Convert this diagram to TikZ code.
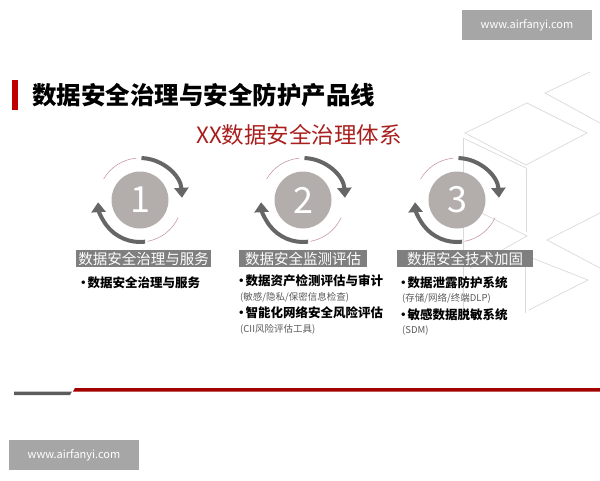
\documentclass[tikz,border=0pt]{standalone}
\usepackage{fontspec}
\setmainfont{Noto Sans CJK SC}
\usetikzlibrary{arrows.meta}

\definecolor{titlered}{HTML}{C00000}
\definecolor{subred}{HTML}{A8201E}
\definecolor{discgray}{HTML}{B3AEAC}
\definecolor{ringgray}{HTML}{666666}
\definecolor{ringpink}{HTML}{C89AA4}
\definecolor{boxgray}{HTML}{7F7F7F}
\definecolor{markgray}{HTML}{A6A6A6}
\definecolor{cubegray}{HTML}{DADADA}
\definecolor{notegray}{HTML}{595959}

\tikzset{
    cube/.style={cubegray, line width=0.7pt},
    disc/.style={circle, fill=discgray, minimum size=57pt, inner sep=0pt, text=white, font=\fontsize{36}{36}\selectfont},
    ring/.style={ringgray, line width=4pt, -{Triangle[width=14pt,length=10pt]}},
    thinring/.style={ringpink, line width=0.6pt},
    headbox/.style={fill=boxgray, text=white, minimum height=17pt, inner sep=0pt, font=\fontsize{14.5}{14.5}\selectfont},
    item/.style={anchor=west, inner sep=0pt, font=\bfseries\fontsize{12.5}{12.5}\selectfont},
    note/.style={anchor=west, inner sep=0pt, text=notegray, font=\fontsize{9.5}{9.5}\selectfont},
    watermark/.style={fill=markgray, text=white, minimum width=130pt, minimum height=30pt, inner sep=0pt, font=\fontsize{11}{11}\selectfont}
}

\begin{document}
\begin{tikzpicture}[x=1pt, y=-1pt]
    \useasboundingbox (0, 0) rectangle (600, 480);

    % Background cubes
    \draw[cube] (590, 72) -- (545, 93) -- (600, 123);
    \draw[cube] (465, 133) -- (527, 103) -- (587, 133) -- (526, 165) -- cycle;
    \draw[cube] (463, 138) -- (526, 168);
    \draw[cube] (463, 138) -- (463, 312);
    \draw[cube] (526, 168) -- (526, 232);
    \draw[cube] (470, 207) -- (527, 236) -- (470, 268);
    \draw[cube] (600, 213) -- (547, 240) -- (600, 268);
    \draw[cube] (525, 255) -- (525, 313);
    \draw[cube] (532, 258) -- (588, 280) -- (529, 310);

    % Watermarks
    \node[watermark] (mark top) at (527, 25) {www.airfanyi.com};
    \node[watermark] (mark bottom) at (74, 455) {www.airfanyi.com};

    % Title
    \fill[titlered] (12, 80) rectangle (18, 110);
    \node[anchor=west, inner sep=0pt, font=\bfseries\fontsize{24.5}{24.5}\selectfont] (title) at (32, 95) {数据安全治理与安全防护产品线};
    \node[text=subred, inner sep=0pt, font=\fontsize{22.5}{22.5}\selectfont] (subtitle) at (299, 135) {XX数据安全治理体系};

    % Discs
    \node[disc] (disc1) at (140, 200) {1};
    \node[disc] (disc2) at (303, 200) {2};
    \node[disc] (disc3) at (457, 200) {3};

    % Rings
    \draw[thinring] (140, 200) ++(-150:42) arc (-150:-95:42);
    \draw[thinring] (140, 200) ++(25:42) arc (25:80:42);
    \draw[ring] (140, 200) ++(-88:42) arc (-88:-3:42);
    \draw[ring] (140, 200) ++(83:42) arc (83:177:42);

    \draw[thinring] (303, 200) ++(-150:42) arc (-150:-95:42);
    \draw[thinring] (303, 200) ++(25:42) arc (25:80:42);
    \draw[ring] (303, 200) ++(-88:42) arc (-88:-3:42);
    \draw[ring] (303, 200) ++(83:42) arc (83:177:42);

    \draw[thinring] (457, 200) ++(-150:42) arc (-150:-95:42);
    \draw[thinring] (457, 200) ++(25:42) arc (25:80:42);
    \draw[ring] (457, 200) ++(-88:42) arc (-88:-3:42);
    \draw[ring] (457, 200) ++(83:42) arc (83:177:42);

    % Headings
    \node[headbox, minimum width=135pt] (head1) at (143.5, 258.5) {数据安全治理与服务};
    \node[headbox, minimum width=128pt] (head2) at (303, 258.5) {数据安全监测评估};
    \node[headbox, minimum width=136pt] (head3) at (465, 258.5) {数据安全技术加固};

    % Items
    \node[item] (item1a) at (77, 283) {•\hspace{-2pt}数据安全治理与服务};

    \node[item] (item2a) at (235, 281) {•\hspace{-2pt}数据资产检测评估与审计};
    \node[note] (note2a) at (240, 297) {(敏感/隐私/保密信息检查)};
    \node[item] (item2b) at (235, 313) {•\hspace{-2pt}智能化网络安全风险评估};
    \node[note] (note2b) at (240, 329) {(CII风险评估工具)};

    \node[item] (item3a) at (397, 283) {•\hspace{-2pt}数据泄露防护系统};
    \node[note] (note3a) at (402, 298) {(存储/网络/终端DLP)};
    \node[item] (item3b) at (397, 315) {•\hspace{-2pt}敏感数据脱敏系统};
    \node[note] (note3b) at (402, 331) {(SDM)};

    % Footer line
    \fill[ringgray!90!black] (14, 391.5) -- (72, 391.5) -- (70, 395) -- (14, 395) -- cycle;
    \fill[titlered!85!black] (75, 388) -- (600, 388) -- (600, 391.5) -- (73, 391.5) -- cycle;
\end{tikzpicture}
\end{document}
